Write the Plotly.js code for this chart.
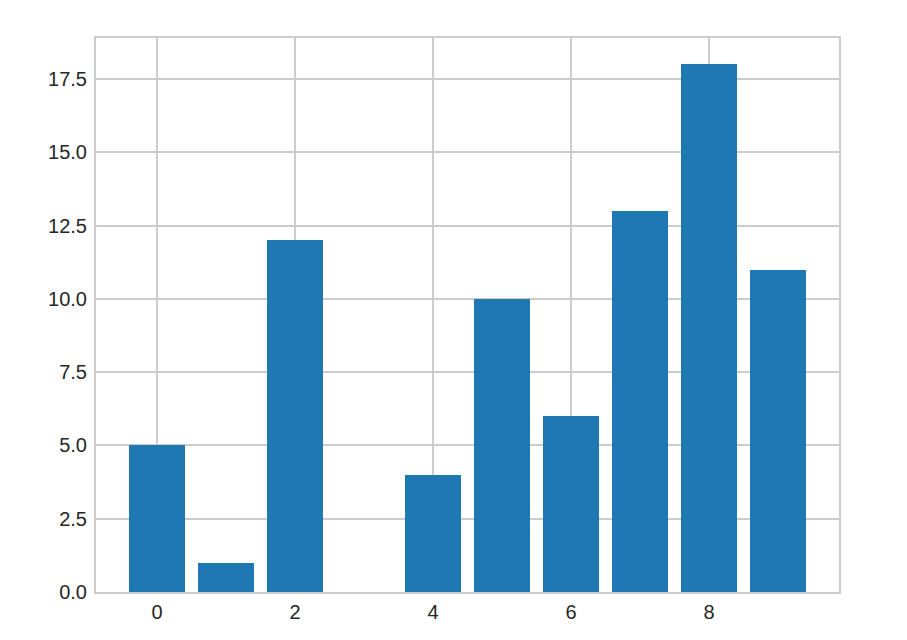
<!DOCTYPE html>
<html>
<head>
<meta charset="utf-8">
<script src="https://cdn.plot.ly/plotly-3.0.1.min.js"></script>
<style>html,body{margin:0;padding:0;background:#fff;}#chart{width:907px;height:640px;}</style>
</head>
<body>
<div id="chart"></div>
<script>
const categories = [0, 1, 2, 3, 4, 5, 6, 7, 8, 9];
const values = [5, 1, 12, 0, 4, 10, 6, 13, 18, 11];
const xTicks = [0, 2, 4, 6, 8];
const yTicks = [0, 2.5, 5, 7.5, 10, 12.5, 15, 17.5];

const trace = {
  type: 'bar',
  x: categories,
  y: values,
  width: 0.8,
  marker: {color: '#1f77b4', line: {width: 0}},
  hoverinfo: 'x+y'
};

const axisCommon = {
  showgrid: true,
  gridcolor: '#cccccc',
  gridwidth: 2,
  zeroline: false,
  showline: true,
  linecolor: '#cccccc',
  linewidth: 2,
  mirror: true,
  ticks: '',
  tickfont: {family: 'Liberation Sans, Arial, sans-serif', size: 20, color: '#262626'}
};

const layout = {
  width: 907,
  height: 640,
  margin: {l: 96, r: 68, t: 38, b: 48},
  paper_bgcolor: '#ffffff',
  plot_bgcolor: '#ffffff',
  showlegend: false,
  bargap: 0,
  xaxis: Object.assign({}, axisCommon, {
    range: [-0.884, 9.884],
    tickmode: 'array',
    tickvals: xTicks,
    ticktext: xTicks.map(String),
    ticklabelstandoff: 1
  }),
  yaxis: Object.assign({}, axisCommon, {
    range: [0, 18.9],
    tickmode: 'array',
    tickvals: yTicks,
    ticktext: yTicks.map(v => v.toFixed(1)),
    ticklabelstandoff: 3
  })
};

Plotly.newPlot('chart', [trace], layout, {displayModeBar: false, staticPlot: true});
</script>
</body>
</html>
